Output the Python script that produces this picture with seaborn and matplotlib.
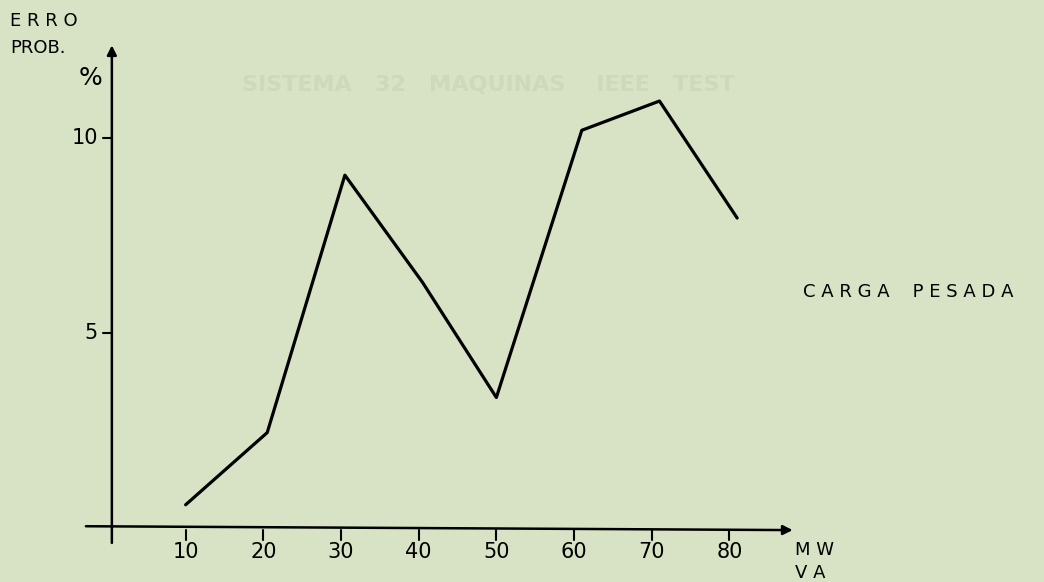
import seaborn as sns
import matplotlib.pyplot as plt
import pandas as pd

# values
carga = [10, 20.5, 30.5, 40.5, 50, 61, 71, 81]
erro = [0.6, 2.45, 9.05, 6.3, 3.35, 10.2, 10.95, 7.95]
xticks = [10, 20, 30, 40, 50, 60, 70, 80]
yticks = [5, 10]

df = pd.DataFrame({"MWVA": carga, "erro": erro})

sns.set_style("white")
plt.rcParams['font.family'] = ['DejaVu Sans']
plt.rcParams['text.color'] = 'black'
bg = "#d7e3c4"

fig = plt.figure(figsize=(10.44, 5.82), dpi=100, facecolor=bg)
ax = fig.add_axes([0, 0, 1, 1])
ax.set_facecolor(bg)

#curve
sns.lineplot(data=df, x="MWVA", y="erro", color="black", lw=2.3, ax=ax)

ax.set_xlim(-13.9, 120.5)
ax.set_ylim(-1.38, 13.54)

# axes drawn as arrows crossing at the origin
for s in ax.spines.values():
    s.set_visible(False)
ax.annotate("", xy=(88.5, -0.05), xytext=(-3.2, 0.05),
            arrowprops=dict(arrowstyle="-|>", color="black", lw=1.8, mutation_scale=14))
ax.annotate("", xy=(0.5, 12.45), xytext=(0.5, -0.45),
            arrowprops=dict(arrowstyle="-|>", color="black", lw=1.8, mutation_scale=14))

# ticks
for t in xticks:
    ax.plot([t, t], [-0.05, -0.3], color="black", lw=1.5)
    ax.text(t, -0.62, str(t), ha="center", va="center", fontsize=15)
for t in yticks:
    ax.plot([0.5, -0.6], [t, t], color="black", lw=1.5)
    ax.text(-1.3, t, str(t), ha="right", va="center", fontsize=15)

ax.set_xticks([])
ax.set_yticks([])
ax.set_xlabel("")
ax.set_ylabel("")

# labels
ax.text(-12.6, 13.0, "E R R O", fontsize=13, ha="left", va="center")
ax.text(-12.6, 12.3, "PROB.", fontsize=13, ha="left", va="center")
ax.text(-2.2, 11.55, "%", fontsize=18, ha="center", va="center")
ax.text(88.5, -0.55, "M W", fontsize=13, ha="left", va="center")
ax.text(88.5, -1.15, "V A", fontsize=13, ha="left", va="center")
ax.text(89.5, 6.05, "C A R G A    P E S A D A", fontsize=13, ha="left", va="center")

# faint show-through from the back of the page
ax.text(49, 11.35, "SISTEMA   32   MAQUINAS    IEEE   TEST", fontsize=16,
        color="#cdd8bc", ha="center", va="center", fontweight="bold")

fig.savefig("out.png", dpi=100, facecolor=bg)
